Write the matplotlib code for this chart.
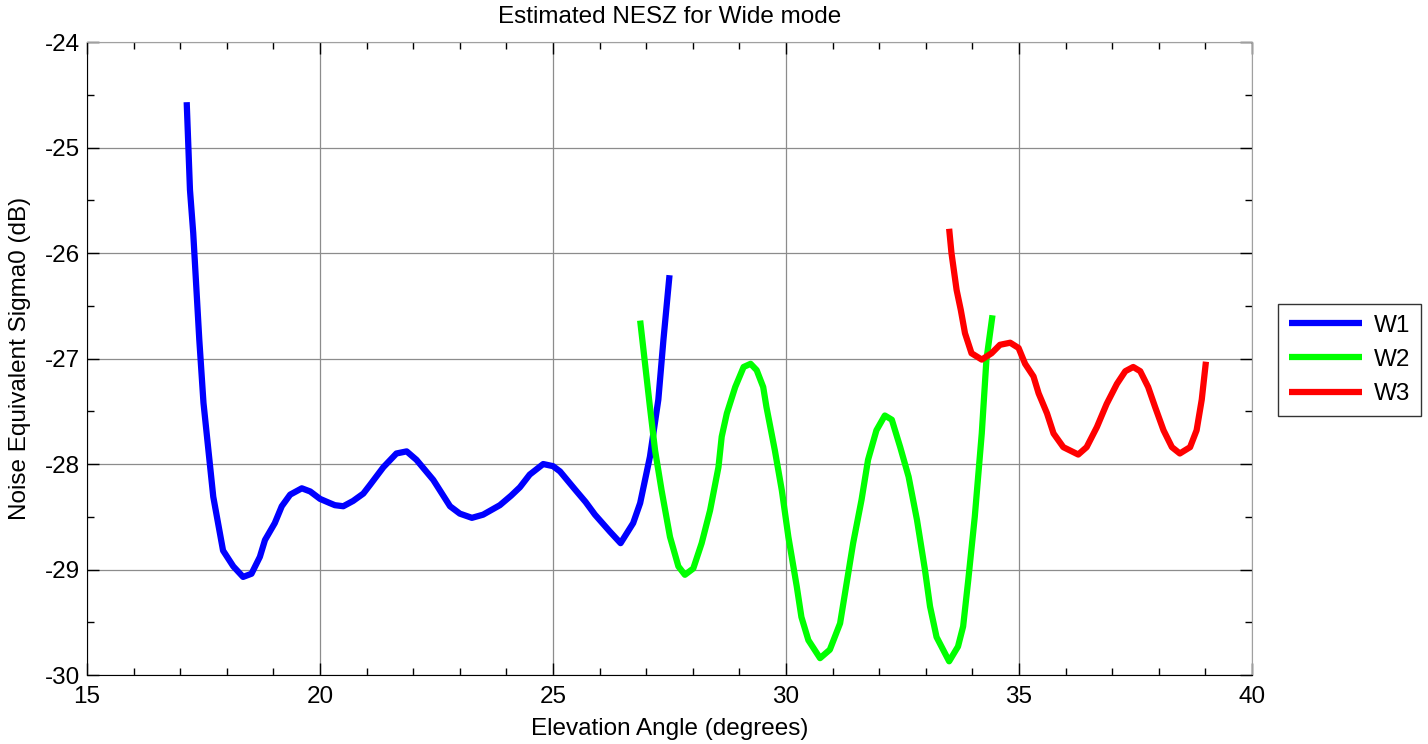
import matplotlib
matplotlib.use('Agg')
import matplotlib.pyplot as plt
from matplotlib.ticker import MultipleLocator

plt.rcParams['font.family'] = ['Liberation Sans', 'DejaVu Sans']
plt.rcParams['axes.unicode_minus'] = False

# NESZ curves per sub-swath (elevation angle in degrees, sigma0 in dB)
w1_angle = [17.14, 17.21, 17.28, 17.41, 17.50, 17.71, 17.92, 18.14, 18.35, 18.53,
            18.71, 18.82, 19.03, 19.18, 19.36, 19.61, 19.79, 20.00, 20.21, 20.32,
            20.50, 20.71, 20.93, 21.07, 21.36, 21.64, 21.86, 22.07, 22.43, 22.79,
            23.00, 23.26, 23.50, 23.86, 24.10, 24.29, 24.50, 24.79, 25.00, 25.15,
            25.47, 25.70, 25.90, 26.22, 26.45, 26.72, 26.87, 27.08, 27.26, 27.37,
            27.50]
w1_nesz = [-24.57, -25.40, -25.81, -26.82, -27.42, -28.31, -28.82, -28.97, -29.07, -29.04,
           -28.88, -28.72, -28.56, -28.40, -28.29, -28.23, -28.26, -28.33, -28.37, -28.39,
           -28.40, -28.35, -28.28, -28.20, -28.03, -27.90, -27.88, -27.96, -28.15, -28.40,
           -28.47, -28.51, -28.48, -28.39, -28.30, -28.22, -28.10, -28.00, -28.02, -28.07,
           -28.24, -28.36, -28.48, -28.64, -28.75, -28.56, -28.37, -27.93, -27.39, -26.82,
           -26.21]

w2_angle = [26.87, 27.08, 27.19, 27.33, 27.51, 27.69, 27.83, 28.01, 28.19, 28.37,
            28.55, 28.62, 28.73, 28.91, 29.09, 29.24, 29.37, 29.51, 29.58, 29.76,
            29.91, 30.05, 30.23, 30.33, 30.48, 30.73, 30.94, 31.16, 31.30, 31.44,
            31.62, 31.76, 31.94, 32.12, 32.27, 32.45, 32.63, 32.81, 32.98, 33.09,
            33.23, 33.50, 33.69, 33.80, 33.91, 34.05, 34.20, 34.30, 34.43]
w2_nesz = [-26.64, -27.46, -27.87, -28.25, -28.69, -28.97, -29.05, -28.99, -28.75, -28.44,
           -28.03, -27.74, -27.52, -27.27, -27.08, -27.05, -27.11, -27.27, -27.46, -27.87,
           -28.25, -28.69, -29.16, -29.45, -29.67, -29.84, -29.76, -29.51, -29.13, -28.75,
           -28.34, -27.96, -27.68, -27.54, -27.58, -27.84, -28.12, -28.53, -29.00, -29.35,
           -29.64, -29.87, -29.73, -29.54, -29.10, -28.50, -27.71, -27.01, -26.59]

w3_angle = [33.50, 33.55, 33.66, 33.75, 33.84, 33.98, 34.20, 34.41, 34.59, 34.81,
            34.99, 35.13, 35.31, 35.42, 35.60, 35.74, 35.95, 36.27, 36.45, 36.67,
            36.88, 37.10, 37.28, 37.45, 37.60, 37.77, 37.92, 38.10, 38.28, 38.45,
            38.67, 38.81, 38.92, 39.01]
w3_nesz = [-25.77, -26.00, -26.35, -26.54, -26.76, -26.95, -27.01, -26.95, -26.87, -26.85,
           -26.90, -27.05, -27.17, -27.33, -27.52, -27.71, -27.84, -27.91, -27.84, -27.65,
           -27.43, -27.24, -27.12, -27.08, -27.12, -27.27, -27.46, -27.68, -27.84, -27.90,
           -27.84, -27.68, -27.39, -27.03]

fs = 17.5

fig = plt.figure(figsize=(14.28, 7.44), dpi=100)
ax = fig.add_axes([0.0609, 0.0927, 0.8159, 0.8508])

line_kw = dict(lw=4.5, solid_joinstyle='round', solid_capstyle='butt')
ax.plot(w1_angle, w1_nesz, color='#0000ff', label='W1', **line_kw)
ax.plot(w2_angle, w2_nesz, color='#00ff00', label='W2', **line_kw)
ax.plot(w3_angle, w3_nesz, color='#ff0000', label='W3', **line_kw)

ax.set_xlim(15, 40)
ax.set_ylim(-30, -24)
ax.xaxis.set_major_locator(MultipleLocator(5))
ax.xaxis.set_minor_locator(MultipleLocator(1))
ax.yaxis.set_major_locator(MultipleLocator(1))
ax.yaxis.set_minor_locator(MultipleLocator(0.5))
ax.tick_params(which='both', direction='in', top=True, right=True,
               labelsize=fs, color='black', width=1)
ax.tick_params(which='major', length=8.5)
ax.tick_params(which='minor', length=5)
ax.tick_params(axis='x', which='major', pad=8)
ax.tick_params(axis='y', which='major', pad=5)
ax.grid(True, which='major', color='#8c8c8c', lw=0.9)

for side in ['top', 'right']:
    ax.spines[side].set_color('#a0a0a0')
for side in ['left', 'bottom']:
    ax.spines[side].set_color('black')

ax.set_title('Estimated NESZ for Wide mode', fontsize=fs, pad=14)
ax.set_xlabel('Elevation Angle (degrees)', fontsize=fs, labelpad=7)
ax.set_ylabel('Noise Equivalent Sigma0 (dB)', fontsize=fs, labelpad=10)

leg = ax.legend(loc='center left', bbox_to_anchor=(1278 / 1428, 1 - 360 / 744),
                bbox_transform=fig.transFigure, fontsize=fs, frameon=True,
                fancybox=False, handlelength=3.0, borderaxespad=0,
                labelspacing=0.5, borderpad=0.45, handletextpad=0.5)
leg.get_frame().set_edgecolor('black')
leg.get_frame().set_linewidth(1)

fig.savefig('out.png', dpi=100)
